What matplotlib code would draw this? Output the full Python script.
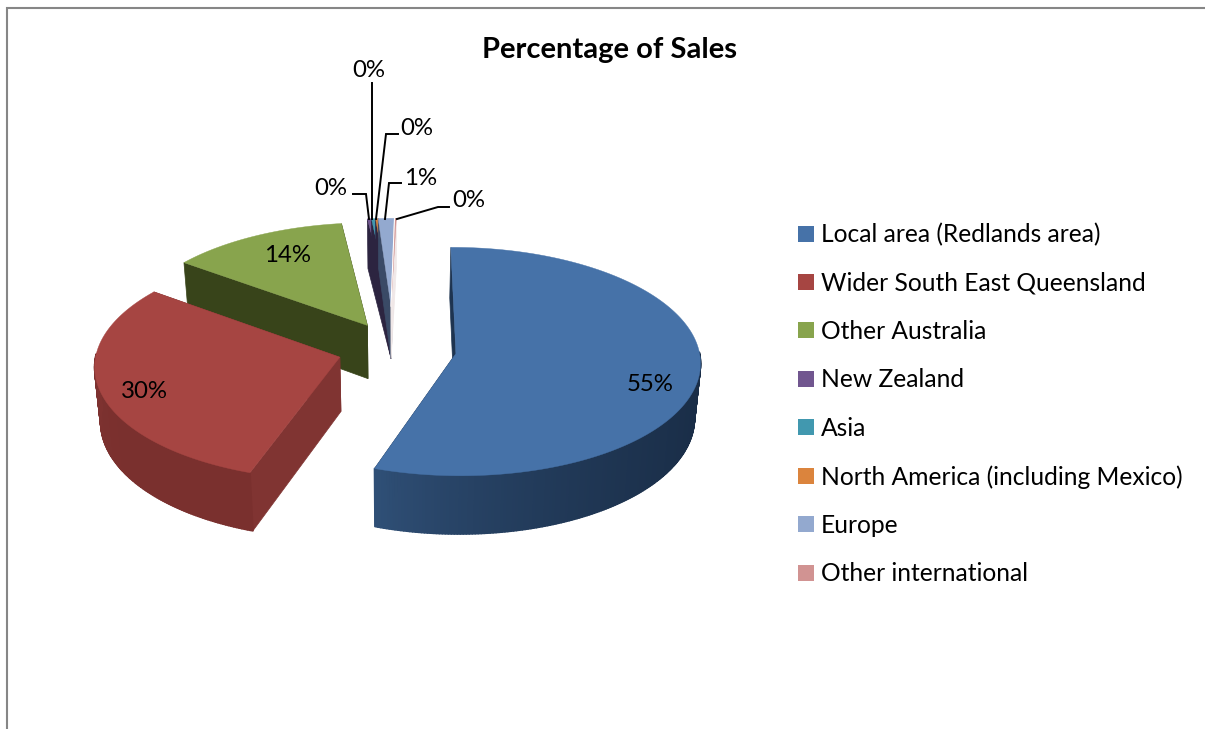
import numpy as np
from matplotlib import pyplot as plt
from matplotlib import colors as mcolors
from matplotlib.collections import PolyCollection
from matplotlib.patches import Patch

plt.rcParams['font.family'] = ['Lato', 'DejaVu Sans']

# data
categories = ['Local area (Redlands area)', 'Wider South East Queensland', 'Other Australia',
              'New Zealand', 'Asia', 'North America (including Mexico)', 'Europe', 'Other international']
sales = [55.4, 29.85, 12.85, 0.27, 0.27, 0.17, 1.07, 0.12]
pct_labels = ['55%', '30%', '14%', '0%', '0%', '0%', '1%', '0%']
title = 'Percentage of Sales'

top_colors = ['#4672A8', '#A64542', '#88A44D', '#71568F', '#4198AF', '#DB843D', '#93A9CF', '#D19392']
cut_colors = ['#1E3450', '#803432', '#38441A', '#2C2440', '#2C2440', '#2C2440', '#3A4A66', '#F0E8E8']
wall_from = ['#182B44', '#7A302E', '#38441A', '#2C2440', '#2C2440', '#2C2440', '#3A4A66', '#F0E8E8']
wall_to = ['#2F4F76', '#8F3C3A', '#38441A', '#2C2440', '#2C2440', '#2C2440', '#3A4A66', '#F0E8E8']
explode = [0.245, 0.245, 0.245, 0.39, 0.39, 0.39, 0.39, 0.39]
radius = [1, 1, 1, 0.87, 0.87, 0.87, 0.87, 0.87]
# the thin slices look wider and lean right in the reference's perspective
widen = [1, 1, 1, 1.25, 1.25, 1.25, 1.25, 1.25]
lean = [0, 0, 0, 0.028, 0.028, 0.028, 0.028, 0.028]
draw_order = [3, 4, 5, 6, 7, 2, 1, 0]

# pie projection, in picture pixels
cx, cy = 397, 349
rx, ry = 243, 113
persp = 0.07
depth = 54
start_angle = -0.3


def project(X, Y, z):
    s = 1 / (1 + persp * Y)
    return cx + rx * X * s * (1 - 0.02 * z), cy - ry * Y * s + depth * z * s


fig = plt.figure(figsize=(12.05, 7.29), dpi=100)
ax = fig.add_axes([0, 0, 1, 1])
ax.set_xlim(0, 1205)
ax.set_ylim(729, 0)
ax.axis('off')

# frame of the chart area
ax.plot([7, 7, 1205], [729, 8, 8], color='#868686', lw=1.5, solid_joinstyle='miter')

edges = start_angle + np.cumsum([0] + sales) * 3.6
for n, i in enumerate(draw_order):
    z = 2 + n * 3
    a0, a1 = np.radians(edges[i]), np.radians(edges[i + 1])
    mid = (a0 + a1) / 2
    # all the small slices pull out together, as one block
    if i >= 3:
        mid = np.radians((edges[3] + edges[8]) / 2)
    ox, oy = explode[i] * np.sin(mid), explode[i] * np.cos(mid)
    th = np.linspace(a0, a1, max(int(np.degrees(a1 - a0) * 1.5), 2))
    Y = oy + radius[i] * np.cos(th)
    X = ox + radius[i] * widen[i] * np.sin(th) + lean[i] * (Y - oy) / radius[i]
    xt, yt = project(X, Y, 0)
    xb, yb = project(X, Y, 1)
    ax0, ay0 = project(ox, oy, 0)
    ax1, ay1 = project(ox, oy, 1)

    for k in [0, -1]:
        ax.fill([ax0, xt[k], xb[k], ax1], [ay0, yt[k], yb[k], ay1],
                color=cut_colors[i], lw=0.5, zorder=z)

    c0, c1 = np.array(mcolors.to_rgb(wall_from[i])), np.array(mcolors.to_rgb(wall_to[i]))
    quads, shades = [], []
    for k in range(len(th) - 1):
        # only the part of the rim that faces the viewer
        if np.cos(th[k]) > 0.02:
            continue
        quads.append([(xt[k], yt[k]), (xt[k + 1], yt[k + 1]), (xb[k + 1], yb[k + 1]), (xb[k], yb[k])])
        t = k / max(len(th) - 2, 1)
        shades.append(c0 + (c1 - c0) * t ** 4)
    if quads:
        ax.add_collection(PolyCollection(quads, facecolors=shades, edgecolors=shades, linewidths=1.2, zorder=z))
    ax.fill(np.r_[ax0, xt], np.r_[ay0, yt], color=top_colors[i], lw=0.3, zorder=z + 1)
    if i == 7:
        # pale hairline between Europe and Other international
        ax.plot([ax0, xt[0]], [ay0, yt[0]], color='white', lw=0.8, zorder=z + 2)

label_pos = [(650, 384), (144, 391), (288, 255), (331, 188), (369, 70), (417, 128), (421, 178), (469, 200)]
leaders = [None, None, None,
           [(353, 194), (366, 194), (369, 219)],
           [(372, 83), (372, 219)],
           [(398, 134), (386, 134), (376, 219)],
           [(401, 183), (389, 183), (385, 219)],
           [(449, 207), (438, 207), (397, 219)]]
for lab, pos, lead in zip(pct_labels, label_pos, leaders):
    ax.text(pos[0], pos[1], lab, fontsize=17.3, color='black', ha='center', va='center', zorder=60)
    if lead:
        ax.plot([p[0] for p in lead], [p[1] for p in lead], color='black', lw=1.4, zorder=50,
                solid_joinstyle='miter')

ax.text(609, 50, title, fontsize=21, fontweight='bold', ha='center', va='center', color='black')

handles = [Patch(facecolor=c, edgecolor='none', label=n) for c, n in zip(top_colors, categories)]
ax.legend(handles=handles, loc='upper left', bbox_to_anchor=(786.2, 210.8), bbox_transform=ax.transData,
          frameon=False, fontsize=17.7, handlelength=0.62, handleheight=0.62, handletextpad=0.28,
          labelspacing=1.03, borderaxespad=0, borderpad=0.5)

fig.savefig('out.png', dpi=100)
